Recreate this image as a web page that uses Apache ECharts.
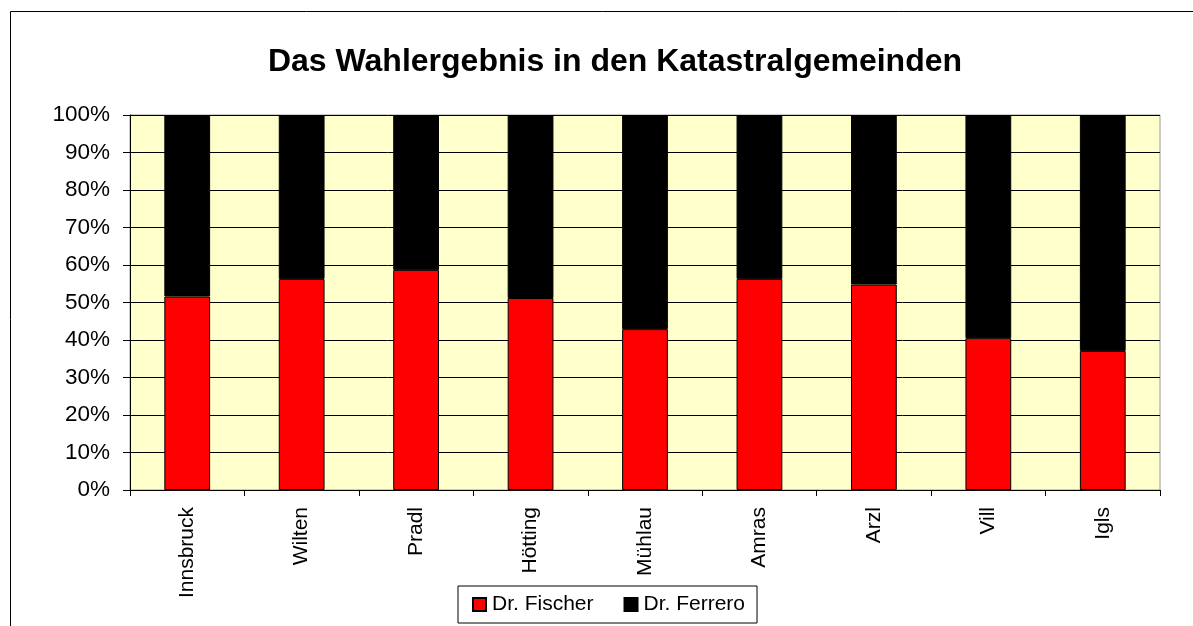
<!DOCTYPE html>
<html lang="de">
<head>
    <meta charset="UTF-8">
    <script type="text/javascript" src="https://cdn.jsdelivr.net/npm/echarts@6/dist/echarts.min.js"></script>
    <style>
        html, body { margin: 0; padding: 0; background: #fff; }
        #chart { width: 1193px; height: 626px; }
    </style>
</head>
<body>
    <div id="chart"></div>
<script>
    // Katastralgemeinden
    var gemeinden = ['Innsbruck', 'Wilten', 'Pradl', 'Hötting', 'Mühlau', 'Amras', 'Arzl', 'Vill', 'Igls'];
    // Anteile in Prozent
    var fischer = [51.6, 56.3, 58.7, 51.2, 42.9, 56.3, 54.8, 40.5, 37.1];
    var ferrero = [48.4, 43.7, 41.3, 48.8, 57.1, 43.7, 45.2, 59.5, 62.9];

    var font = '"Liberation Sans", Arial, sans-serif';

    var chart = echarts.init(document.getElementById('chart'));

    var option = {
        animation: false,
        backgroundColor: '#ffffff',
        graphic: [{
            type: 'rect',
            shape: { x: 10.5, y: 11.5, width: 1200, height: 700 },
            style: { fill: 'none', stroke: '#000', lineWidth: 1 },
            silent: true,
            z: -1
        }],
        title: {
            text: 'Das Wahlergebnis in den Katastralgemeinden',
            left: 610,
            textAlign: 'center',
            top: 41,
            textStyle: {
                fontFamily: font,
                fontSize: 32,
                fontWeight: 'bold',
                color: '#000'
            }
        },
        legend: {
            left: 458,
            top: 586,
            orient: 'horizontal',
            itemWidth: 13,
            itemHeight: 13,
            itemGap: 30,
            padding: [8, 12, 8, 14],
            borderColor: '#000',
            borderWidth: 1,
            backgroundColor: '#fff',
            textStyle: { fontFamily: font, fontSize: 21, color: '#000', padding: [0, 0, 0, 1] },
            data: [
                { name: 'Dr. Fischer', icon: 'rect' },
                { name: 'Dr. Ferrero', icon: 'rect' }
            ]
        },
        grid: {
            left: 130,
            right: 33,
            top: 115,
            bottom: 136,
            show: true,
            backgroundColor: '#FFFFCC',
            borderColor: '#999',
            borderWidth: 1
        },
        xAxis: {
            type: 'category',
            data: gemeinden,
            axisLine: { show: true, lineStyle: { color: '#000', width: 1 } },
            axisTick: { show: true, length: 6, lineStyle: { color: '#000' } },
            axisLabel: {
                rotate: 90,
                margin: 17,
                fontFamily: font,
                fontSize: 21,
                color: '#000'
            }
        },
        yAxis: {
            type: 'value',
            min: 0,
            max: 100,
            interval: 10,
            axisLine: { show: true, lineStyle: { color: '#000', width: 1 } },
            axisTick: { show: true, length: 7, lineStyle: { color: '#000' } },
            axisLabel: {
                formatter: '{value}%',
                margin: 20,
                fontFamily: font,
                fontSize: 22.5,
                color: '#000'
            },
            splitLine: { show: true, lineStyle: { color: '#000', width: 1 } }
        },
        series: [{
            name: 'Dr. Fischer',
            type: 'bar',
            stack: 'gesamt',
            barWidth: '40%',
            data: fischer,
            itemStyle: { color: '#FF0000', borderColor: '#000', borderWidth: 1 }
        }, {
            name: 'Dr. Ferrero',
            type: 'bar',
            stack: 'gesamt',
            barWidth: '40%',
            data: ferrero,
            itemStyle: { color: '#000000', borderColor: '#000', borderWidth: 1 }
        }]
    };

    chart.setOption(option);
</script>
</body>
</html>
